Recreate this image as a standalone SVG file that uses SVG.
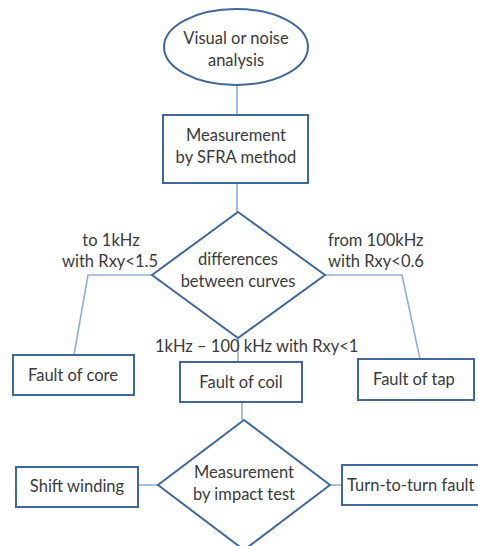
<svg xmlns="http://www.w3.org/2000/svg" width="478" height="546" viewBox="0 0 478 546">
<style>
.n{fill:#fff;stroke:#41689a;stroke-width:2}
.c{fill:none;stroke:#8fb0d6;stroke-width:1.6}
text{font-family:Lato,"Open Sans","Liberation Sans",sans-serif;font-size:16.5px;fill:#3a3a3a}
.m{text-anchor:middle}
</style>
<rect width="478" height="546" fill="#fff"/>
<g id="connectors">
<line class="c" x1="237" y1="85" x2="237" y2="115"/>
<line class="c" x1="237" y1="183" x2="237" y2="212"/>
<polyline class="c" points="152,275 88,275 74,355"/>
<polyline class="c" points="325,275 402,275 420,359"/>
<line class="c" x1="238" y1="338" x2="238" y2="362"/>
<line class="c" x1="242" y1="402" x2="242" y2="420"/>
<line class="c" x1="138" y1="485" x2="158" y2="485"/>
<line class="c" x1="330" y1="485" x2="342" y2="485"/>
</g>
<g id="start">
<ellipse class="n" cx="236" cy="47" rx="72" ry="38"/>
<text class="m" x="236" y="44">Visual or noise</text>
<text class="m" x="236" y="66">analysis</text>
</g>
<g id="sfra">
<rect class="n" x="163" y="115" width="145" height="68"/>
<text class="m" x="236" y="141">Measurement</text>
<text class="m" x="236" y="163">by SFRA method</text>
</g>
<g id="diff">
<polygon class="n" points="238,212 325,275 238,338 152,275"/>
<text class="m" x="238" y="265">differences</text>
<text class="m" x="238" y="287">between curves</text>
</g>
<g id="labels">
<text class="m" x="111" y="246">to 1kHz</text>
<text class="m" x="110" y="267">with Rxy&lt;1.5</text>
<text x="328" y="246">from 100kHz</text>
<text x="328" y="267">with Rxy&lt;0.6</text>
<text x="155" y="352">1kHz – 100 kHz with Rxy&lt;1</text>
</g>
<g id="core">
<rect class="n" x="13" y="355" width="121" height="40"/>
<text class="m" x="73" y="381">Fault of core</text>
</g>
<g id="coil">
<rect class="n" x="180" y="362" width="122" height="40"/>
<text class="m" x="241" y="388">Fault of coil</text>
</g>
<g id="tap">
<rect class="n" x="358" y="359" width="116" height="41"/>
<text x="373" y="385">Fault of tap</text>
</g>
<g id="impact">
<polygon class="n" points="244,420 330,485 244,550 158,485"/>
<text class="m" x="244" y="478">Measurement</text>
<text class="m" x="244" y="500">by impact test</text>
</g>
<g id="shift">
<rect class="n" x="16" y="467" width="122" height="40"/>
<text class="m" x="77" y="492">Shift winding</text>
</g>
<g id="turn">
<rect class="n" x="342" y="465" width="150" height="40"/>
<text x="347" y="491">Turn-to-turn fault</text>
</g>
</svg>
